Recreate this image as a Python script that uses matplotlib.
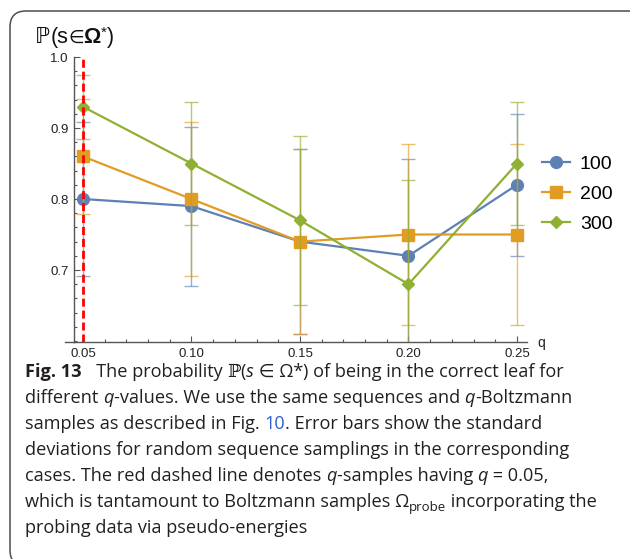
import matplotlib
matplotlib.use("Agg")
import matplotlib.pyplot as plt
from matplotlib.patches import FancyBboxPatch
from matplotlib.transforms import IdentityTransform
from matplotlib.lines import Line2D

# q values and probability of landing in the correct leaf
q_vals = [0.05, 0.10, 0.15, 0.20, 0.25]
series_names = ["100", "200", "300"]
p_100 = [0.80, 0.79, 0.74, 0.72, 0.82]
p_200 = [0.86, 0.80, 0.74, 0.75, 0.75]
p_300 = [0.93, 0.85, 0.77, 0.68, 0.85]
# standard deviations over random sequence samplings
sd_100 = [0.108, 0.112, 0.130, 0.136, 0.100]
sd_200 = [0.081, 0.108, 0.130, 0.127, 0.127]
sd_300 = [0.045, 0.086, 0.119, 0.147, 0.086]
q_ref = 0.05

W, H = 630, 559
fig = plt.figure(figsize=(W / 100, H / 100), dpi=100)
fig.patch.set_facecolor("white")

# rounded frame around figure + caption
frame = FancyBboxPatch((10, H - 566), 700, 566 - 11,
                       boxstyle="round,pad=0,rounding_size=16",
                       transform=IdentityTransform(), fill=False,
                       edgecolor="#4d4d4d", lw=1.1)
fig.patches.append(frame)

ax = fig.add_axes([74 / W, 1 - 342 / H, (527 - 74) / W, (342 - 57) / H])

colors = ["#5E81B5", "#E19C24", "#8FB032"]
markers = ["o", "s", "D"]
msizes = [8.5, 8.5, 6.5]
all_p = [p_100, p_200, p_300]
all_sd = [sd_100, sd_200, sd_300]

handles = []
for p, sd, name, c, m, ms in zip(all_p, all_sd, series_names, colors, markers, msizes):
    ax.errorbar(q_vals, p, yerr=sd, fmt="none", ecolor=c, alpha=0.65,
                elinewidth=1.0, capsize=4.7, capthick=1.0)
    ax.plot(q_vals, p, color=c, lw=1.6, marker=m, ms=ms, mec=c, mfc=c)
    handles.append(Line2D([], [], color=c, lw=1.6, marker=m, ms=ms, mec=c, mfc=c))

ax.axvline(q_ref, color="red", lw=2, ls=(0, (2.9, 1.4)), zorder=6)

ax.set_xlim(0.0459, 0.2546)
ax.set_ylim(0.5986, 1.0)
ax.set_xticks(q_vals)
ax.set_xticklabels(["%.2f" % v for v in q_vals])
ax.set_xticks([0.06, 0.07, 0.08, 0.09, 0.11, 0.12, 0.13, 0.14,
               0.16, 0.17, 0.18, 0.19, 0.21, 0.22, 0.23, 0.24], minor=True)
ax.set_yticks([0.7, 0.8, 0.9, 1.0])
ax.set_yticklabels(["0.7", "0.8", "0.9", "1.0"])
ax.set_yticks([0.60, 0.62, 0.64, 0.66, 0.68, 0.72, 0.74, 0.76, 0.78,
               0.82, 0.84, 0.86, 0.88, 0.92, 0.94, 0.96, 0.98], minor=True)

for side in ["top", "right"]:
    ax.spines[side].set_visible(False)
for side in ["left", "bottom"]:
    ax.spines[side].set_color("#555555")
    ax.spines[side].set_linewidth(1.0)
ax.tick_params(which="both", direction="in", color="#555555", width=0.8)
ax.tick_params(which="major", length=4.5, labelsize=9.5, labelcolor="#222222",
               pad=4)
ax.tick_params(which="minor", length=2.5)
for lbl in ax.get_xticklabels() + ax.get_yticklabels():
    lbl.set_fontfamily("Liberation Sans")

# x axis runs a little past the y axis
ax.plot([-0.02, 0], [0, 0], transform=ax.transAxes, color="#555555",
        lw=1.0, clip_on=False)

leg = fig.legend(handles, series_names, loc="center left",
                 bbox_to_anchor=(542 / W, 1 - 194 / H), frameon=False,
                 prop={"family": "Liberation Sans", "size": 14},
                 handlelength=1.45, handletextpad=0.5, labelspacing=0.65,
                 borderpad=0, borderaxespad=0)

fig.text(541 / W, 1 - 343 / H, "q", fontsize=10, family="Liberation Sans",
         ha="center", va="center", color="#222222")

renderer = fig.canvas.get_renderer()


def draw_segments(segs, x, y, base):
    # lay out differently styled pieces of text along one baseline (pixels)
    for s, kw in segs:
        props = dict(base)
        props.update(kw)
        dy = props.pop("dy", 0)
        t = fig.text(x / W, 1 - (y + dy) / H, s, ha="left", va="baseline",
                     **props)
        x += t.get_window_extent(renderer).width


# y-axis label
lab = {"family": ["Liberation Sans", "DejaVu Sans"], "size": 15.5,
       "color": "#111111"}
draw_segments([("ℙ", {"family": "DejaVu Sans"}), ("(s", {}),
               ("∈", {"family": "DejaVu Sans", "size": 13}),
               ("Ω", {"weight": "bold"}), ("*", {"size": 11, "dy": -6}),
               (")", {})], 35, 43, lab)

# caption
cap = {"family": ["Open Sans", "DejaVu Sans"], "size": 13.1, "color": "#231f20"}
it = {"style": "italic"}
bb = {"family": "DejaVu Serif", "size": 13}
lines = [
    [("Fig. 13", {"weight": "bold"}), ("   The probability ", {}), ("ℙ", bb),
     ("(", {}), ("s", it), (" ∈ Ω*", {}), (") of being in the correct leaf for", {})],
    [("different ", {}), ("q", it), ("-values. We use the same sequences and ", {}),
     ("q", it), ("-Boltzmann", {})],
    [("samples as described in Fig. ", {}), ("10", {"color": "#2f5fd0"}),
     (". Error bars show the standard", {})],
    [("deviations for random sequence samplings in the corresponding", {})],
    [("cases. The red dashed line denotes ", {}), ("q", it),
     ("-samples having ", {}), ("q", it), (" = 0.05,", {})],
    [("which is tantamount to Boltzmann samples Ω", {}),
     ("probe", {"size": 9.5, "dy": 4}), (" incorporating the", {})],
    [("probing data via pseudo-energies", {})],
]
for i, segs in enumerate(lines):
    draw_segments(segs, 25, 377 + 26 * i, cap)

fig.savefig("out.png", dpi=100)
